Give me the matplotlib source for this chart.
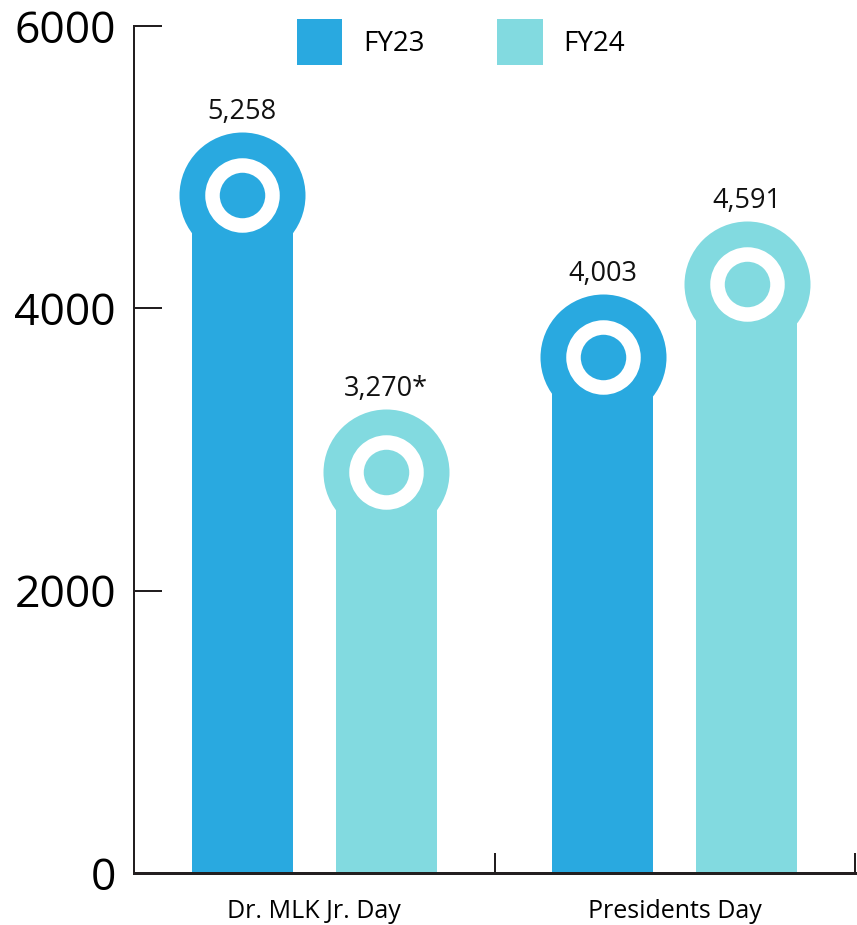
import matplotlib
matplotlib.use("Agg")
import matplotlib.pyplot as plt
from matplotlib.patches import Patch
from matplotlib.ticker import FixedLocator

# ---- data ----
categories = ["Dr. MLK Jr. Day", "Presidents Day"]
series_names = ["FY23", "FY24"]
# bar heights as drawn in the picture (top of each circle)
fy23 = [5250, 4100]
fy24 = [3290, 4620]
# value labels printed above the bars
labels_fy23 = ["5,258", "4,003"]
labels_fy24 = ["3,270*", "4,591"]
y_ticks = [0, 2000, 4000, 6000]

colors = ["#29A9E0", "#82DAE0"]
dark = "#231F20"

W, H, DPI = 857, 925, 100
fig = plt.figure(figsize=(W / DPI, H / DPI), dpi=DPI)
ax_left, ax_right, ax_bottom, ax_top = 134, 855, 873, 26
ax = fig.add_axes([ax_left / W, 1 - ax_bottom / H, (ax_right - ax_left) / W, (ax_bottom - ax_top) / H])
ax.set_xlim(-0.5, 1.5)
ax.set_ylim(0, 6000)

# circle geometry in pixels
R_PX = 63
axes_h_px = ax_bottom - ax_top
r_data = R_PX * (6000 / axes_h_px)

bar_w = 0.28
offset = 0.2
px2pt = 72 / DPI

for si, (vals, labs) in enumerate([(fy23, labels_fy23), (fy24, labels_fy24)]):
    xs = [i + (-offset if si == 0 else offset) for i in range(len(categories))]
    centers = [v - r_data for v in vals]
    ax.bar(xs, centers, width=bar_w, color=colors[si], zorder=2, linewidth=0)
    # outer disc
    ax.plot(xs, centers, 'o', ls='none', markersize=2 * R_PX * px2pt,
            markerfacecolor=colors[si], markeredgewidth=0, zorder=3)
    # white ring
    ax.plot(xs, centers, 'o', ls='none', markersize=2 * 30 * px2pt,
            markerfacecolor=colors[si], markeredgecolor='white',
            markeredgewidth=14.5 * px2pt, zorder=4)
    for x, v, lab in zip(xs, vals, labs):
        ax.annotate(lab, (x, v), xytext=(0, 13 * px2pt), textcoords='offset points',
                    ha='center', va='baseline', fontsize=19.5, family='Open Sans',
                    color='#111111', zorder=5)

# axes styling
for s in ['top', 'right']:
    ax.spines[s].set_visible(False)
ax.spines['left'].set_linewidth(2 * px2pt)
ax.spines['left'].set_color(dark)
ax.spines['bottom'].set_linewidth(3 * px2pt)
ax.spines['bottom'].set_color(dark)

ax.set_yticks(y_ticks)
ax.set_yticklabels([str(t) for t in y_ticks], fontsize=32, family='Open Sans', color='black')
ax.tick_params(axis='y', direction='in', length=28 * px2pt, width=2 * px2pt,
               color=dark, pad=18 * px2pt)

ax.set_xticks(range(len(categories)))
ax.set_xticklabels(categories, fontsize=18, family='Open Sans', color='black')
ax.tick_params(axis='x', which='major', length=0, pad=26 * px2pt)
ax.xaxis.set_minor_locator(FixedLocator([0.5, 1.5]))
ax.tick_params(axis='x', which='minor', direction='in', length=20 * px2pt,
               width=2 * px2pt, color=dark)
for t in ax.xaxis.get_minor_ticks():
    t.tick1line.set_clip_on(False)

handles = [Patch(facecolor=c, edgecolor='none') for c in colors]
leg = fig.legend(handles, series_names, loc='upper center', ncol=2, frameon=False,
                 bbox_to_anchor=(461 / W, 1 - 19 / H), bbox_transform=fig.transFigure,
                 prop={'family': 'Open Sans', 'size': 20},
                 handlelength=1.65, handleheight=2.17, handletextpad=0.75,
                 columnspacing=2.6, borderpad=0, borderaxespad=0)

fig.savefig("out.png", dpi=DPI)
